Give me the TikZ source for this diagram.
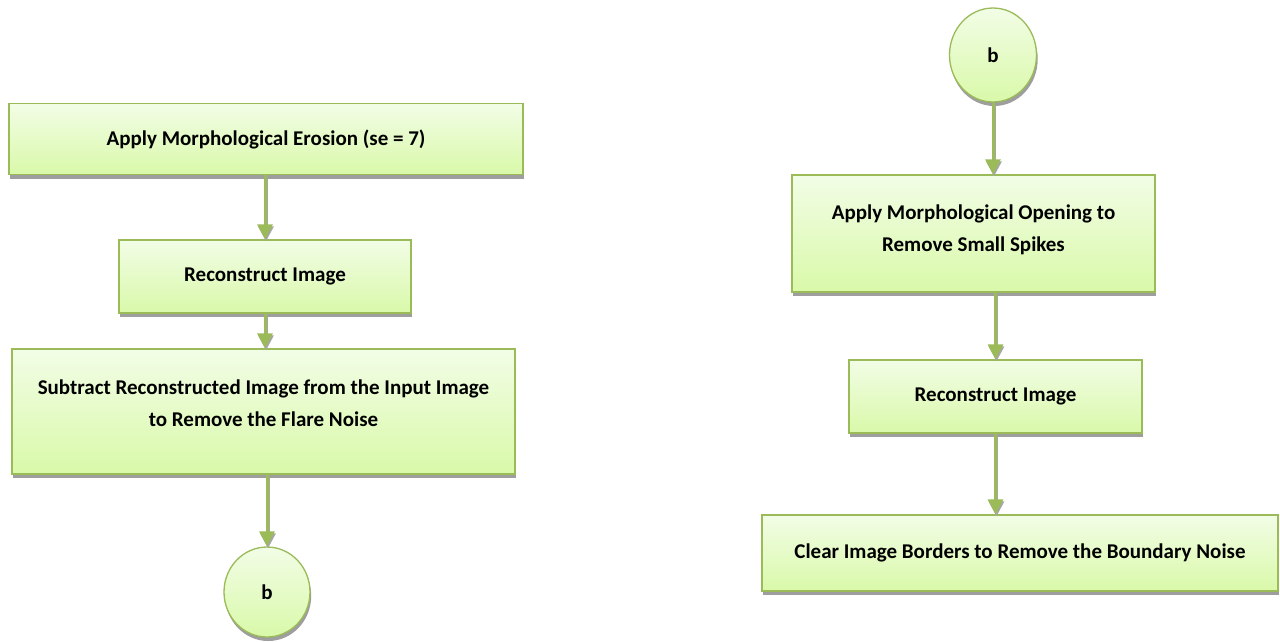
\documentclass[tikz,border=0pt]{standalone}
\usepackage{fontspec}
\setmainfont{Carlito}
\usetikzlibrary{shapes.geometric,shadows,arrows.meta}
\definecolor{olive}{HTML}{9BBB59}
\definecolor{filltop}{HTML}{F2FDE6}
\definecolor{fillbot}{HTML}{D9F9A9}
\tikzset{
  flowbox/.style={rectangle, draw=olive, line width=1.3pt,
    top color=filltop, bottom color=fillbot,
    drop shadow={shadow xshift=1.2pt, shadow yshift=-4pt, fill=black!38, opacity=1},
    font=\fontsize{21}{32}\selectfont\bfseries, align=center, inner sep=0pt},
  connector/.style={draw=olive, line width=1.3pt,
    top color=filltop, bottom color=fillbot, ellipse,
    drop shadow={shadow xshift=1.2pt, shadow yshift=-4pt, fill=black!38, opacity=1},
    font=\fontsize{21}{24}\selectfont\bfseries, inner sep=0pt},
  flow/.style={draw=olive, line width=3pt,
    -{Triangle[width=15pt,length=15pt]},
    preaction={draw=black!35, line width=3pt, -{Triangle[width=15pt,length=15pt]},
      transform canvas={xshift=1pt,yshift=-2pt}}},
}
\begin{document}
\begin{tikzpicture}[x=1pt,y=-1pt]
\useasboundingbox (0,0) rectangle (1280,641);
% left column
\node[flowbox, minimum width=514pt, minimum height=71pt] (erode) at (266,139) {Apply Morphological Erosion (se = 7)};
\node[flowbox, minimum width=292pt, minimum height=73pt] (recA) at (265,276.5) {Reconstruct Image};
\node[flowbox, minimum width=503pt, minimum height=125pt, text depth=16pt] (subtract) at (263.5,411.5) {Subtract Reconstructed Image from the Input Image\\to Remove the Flare Noise};
\node[connector, minimum width=86pt, minimum height=90pt] (bA) at (267,592) {b};
% right column
\node[connector, minimum width=87pt, minimum height=94pt] (bB) at (993,55) {b};
\node[flowbox, minimum width=363pt, minimum height=117pt, text depth=10pt] (open) at (973.5,233.5) {Apply Morphological Opening to\\Remove Small Spikes};
\node[flowbox, minimum width=293pt, minimum height=73pt] (recB) at (995.5,396.5) {Reconstruct Image};
\node[flowbox, minimum width=516pt, minimum height=76pt] (clear) at (1020,553) {Clear Image Borders to Remove the Boundary Noise};
% connectors
\draw[flow] (erode.south -| recA.north) -- (recA.north);
\draw[flow] (recA.south) -- (recA.south |- subtract.north);
\draw[flow] (subtract.south -| bA.north) -- (bA.north);
\draw[flow] (bB.south) -- (bB.south |- open.north);
\draw[flow] (open.south -| recB.north) -- (recB.north);
\draw[flow] (recB.south) -- (recB.south |- clear.north);
\end{tikzpicture}
\end{document}
